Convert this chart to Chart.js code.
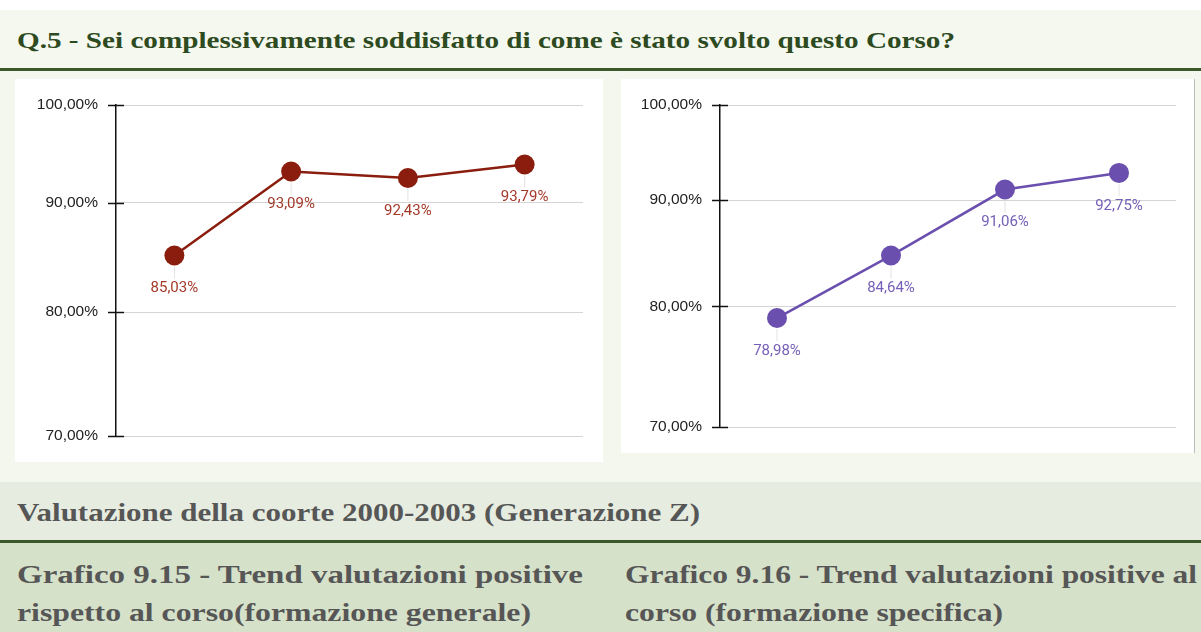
<!DOCTYPE html>
<html>
<head>
<meta charset="utf-8">
<script src="https://cdn.jsdelivr.net/npm/chart.js@4.4.0/dist/chart.umd.min.js"></script>
<style>
  body { margin: 0; width: 1201px; height: 632px; overflow: hidden; background: #f4f7ee; position: relative; }
  .box { position: absolute; }
  .serif { font-family: "Liberation Serif", "DejaVu Serif", serif; font-weight: bold; white-space: nowrap; line-height: 30px; transform-origin: 0 50%; }
  #top { left: 0; top: 0; width: 1201px; height: 10px; background: #fff; }
  #head { left: 0; top: 10px; width: 1201px; height: 58px; background: #f4f8ef; }
  #head span { position: absolute; left: 17px; top: 15px; font-size: 24px; color: #2d4a20; }
  .rule { left: 0; width: 1201px; height: 3px; background: #3b582b; }
  .panel { background: #fff; }
  #p1 { left: 15px; top: 79px; width: 588px; height: 383px; }
  #p2 { left: 621px; top: 79px; width: 573px; height: 374px; border-right: 1px solid #bcbcbc; }
  #band1 { left: 0; top: 482px; width: 1201px; height: 58px; background: #e6ece0; }
  #band2 { left: 0; top: 543px; width: 1201px; height: 89px; background: #d6e1ca; }
  .cap { position: absolute; font-size: 25px; color: #565656; }
</style>
</head>
<body>
<div class="box" id="top"></div>
<div class="box" id="head"><span class="serif" data-w="938">Q.5 - Sei complessivamente soddisfatto di come è stato svolto questo Corso?</span></div>
<div class="box rule" style="top:68px"></div>
<div class="box panel" id="p1"><canvas id="chart-generale" width="588" height="383"></canvas></div>
<div class="box panel" id="p2"><canvas id="chart-specifica" width="573" height="374"></canvas></div>
<div class="box" id="band1"><span class="cap serif" data-w="683" style="left:17px;top:16px">Valutazione della coorte 2000-2003 (Generazione Z)</span></div>
<div class="box rule" style="top:540px"></div>
<div class="box" id="band2">
  <span class="cap serif" data-w="566" style="left:17px;top:17px">Grafico 9.15 - Trend valutazioni positive</span>
  <span class="cap serif" data-w="514" style="left:17px;top:55px">rispetto al corso(formazione generale)</span>
  <span class="cap serif" data-w="572" style="left:625px;top:17px">Grafico 9.16 - Trend valutazioni positive al</span>
  <span class="cap serif" data-w="378" style="left:625px;top:55px">corso (formazione specifica)</span>
</div>

<script>
const cohorts = ['2000', '2001', '2002', '2003'];
const generaleValues = [85.03, 93.09, 92.43, 93.79];
const specificaValues = [78.98, 84.64, 91.06, 92.75];
const yTicks = [70, 80, 90, 100];

const pct = v => v.toFixed(2).replace('.', ',') + '%';

// stretch the serif captions to the width they have in the report
document.querySelectorAll('[data-w]').forEach(el => {
	const w = el.getBoundingClientRect().width;
	el.style.transform = 'scaleX(' + (el.dataset.w / w) + ')';
});

// labels under each point, with the small grey leader line
const pointLabels = {
	id: 'pointLabels',
	afterDatasetsDraw(chart) {
		const ctx = chart.ctx;
		const ds = chart.data.datasets[0];
		chart.getDatasetMeta(0).data.forEach((pt, i) => {
			ctx.save();
			ctx.strokeStyle = '#e2e2e2';
			ctx.lineWidth = 1;
			ctx.beginPath();
			ctx.moveTo(pt.x, pt.y + 11);
			ctx.lineTo(pt.x, pt.y + 23);
			ctx.stroke();
			ctx.fillStyle = ds.labelColor;
			ctx.font = '15px Roboto, "Liberation Sans", sans-serif';
			ctx.textAlign = 'center';
			ctx.textBaseline = 'middle';
			ctx.fillText(pct(ds.data[i]), pt.x, pt.y + 33);
			ctx.restore();
		});
	}
};

// tick marks that cross the y axis line
const crossTicks = {
	id: 'crossTicks',
	afterDraw(chart) {
		const ctx = chart.ctx;
		const y = chart.scales.y;
		ctx.save();
		ctx.strokeStyle = '#111';
		ctx.lineWidth = 1.5;
		yTicks.forEach(t => {
			const py = Math.round(y.getPixelForValue(t)) + 0.5;
			ctx.beginPath();
			ctx.moveTo(y.right - 8, py);
			ctx.lineTo(y.right + 8, py);
			ctx.stroke();
		});
		ctx.restore();
	}
};

function makeChart(canvas, values, lineColor, labelColor, axisWidth, padRight) {
	return new Chart(canvas, {
		type: 'line',
		data: {
			labels: cohorts,
			datasets: [{
				data: values,
				borderColor: lineColor,
				backgroundColor: lineColor,
				pointBackgroundColor: lineColor,
				pointBorderWidth: 0,
				pointRadius: 10,
				borderWidth: 2.5,
				tension: 0,
				labelColor: labelColor
			}]
		},
		options: {
			responsive: false,
			animation: false,
			devicePixelRatio: 1,
			layout: { padding: { top: 26, bottom: 26, left: 0, right: padRight } },
			plugins: { legend: { display: false }, tooltip: { enabled: false } },
			scales: {
				x: { type: 'category', offset: true, display: false },
				y: {
					type: 'logarithmic',
					min: 70,
					max: 100,
					afterFit: s => { s.width = axisWidth; },
					afterBuildTicks: s => { s.ticks = yTicks.map(v => ({ value: v })); },
					border: { color: '#111', width: 1.5 },
					grid: { color: '#d4d4d4', lineWidth: 1, tickLength: 8, tickColor: 'rgba(0,0,0,0)' },
					ticks: {
						padding: 10,
						color: '#222',
						font: { family: '"Liberation Sans", Arial, sans-serif', size: 15.5 },
						callback: v => pct(v)
					}
				}
			}
		},
		plugins: [pointLabels, crossTicks]
	});
}

makeChart(document.getElementById('chart-generale'), generaleValues, '#8a1d0d', '#a33a29', 101, 20);
makeChart(document.getElementById('chart-specifica'), specificaValues, '#6a4fae', '#7660b8', 99, 18);
</script>
</body>
</html>
